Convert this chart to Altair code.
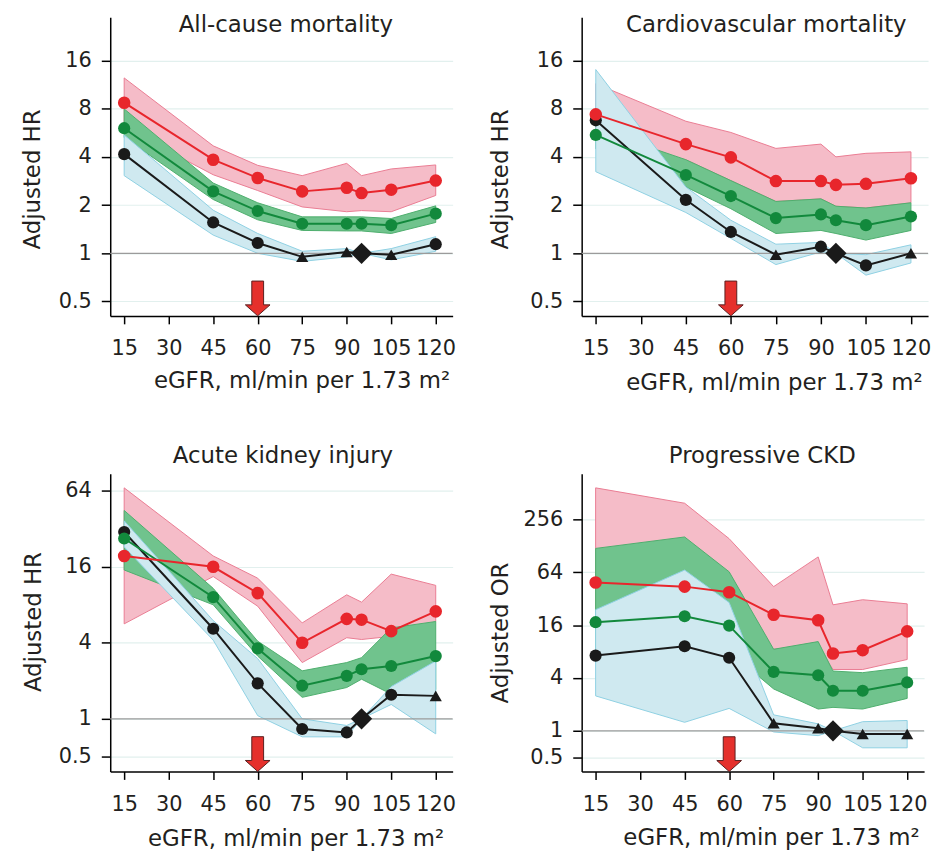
import altair as alt
import pandas as pd

# ---------------- data ----------------
X = [15, 45, 60, 75, 90, 95, 105, 120]
X_TICKS = [15, 30, 45, 60, 75, 90, 105, 120]

# All-cause mortality
AC_BLACK = [4.17, 1.56, 1.16, 0.95, 1.02, 1.0, 0.98, 1.14]
AC_BLACK_LO = [3.06, 1.3, 1.0, 0.89, 0.95, 1.0, 0.91, 1.03]
AC_BLACK_HI = [5.5, 1.86, 1.33, 1.03, 1.07, 1.0, 1.07, 1.27]
AC_SHAPE = ["circle", "circle", "circle", "triangle-up", "triangle-up", "diamond", "triangle-up", "circle"]
AC_GREEN = [6.06, 2.44, 1.84, 1.53, 1.53, 1.53, 1.5, 1.77]
AC_GREEN_LO = [5.3, 2.17, 1.62, 1.39, 1.38, 1.38, 1.33, 1.56]
AC_GREEN_HI = [8.0, 2.75, 2.07, 1.69, 1.69, 1.69, 1.65, 1.98]
AC_RED = [8.75, 3.85, 2.96, 2.44, 2.57, 2.38, 2.5, 2.85]
AC_RED_LO = [6.1, 3.1, 2.47, 1.95, 1.82, 1.85, 1.82, 2.3]
AC_RED_HI = [12.5, 4.7, 3.55, 3.06, 3.65, 3.06, 3.37, 3.57]

# Cardiovascular mortality
CV_BLACK = [6.79, 2.16, 1.36, 0.98, 1.1, 1.0, 0.84, 1.0]
CV_BLACK_LO = [3.24, 1.8, 1.24, 0.85, 1.02, 1.0, 0.73, 0.87]
CV_BLACK_HI = [14.1, 2.6, 1.61, 1.14, 1.17, 1.0, 0.98, 1.13]
CV_SHAPE = ["circle", "circle", "circle", "triangle-up", "circle", "diamond", "circle", "triangle-up"]
CV_GREEN = [5.5, 3.09, 2.28, 1.66, 1.75, 1.61, 1.5, 1.7]
CV_GREEN_LO = [4.5, 2.6, 1.9, 1.33, 1.39, 1.33, 1.21, 1.39]
CV_GREEN_HI = [6.0, 3.85, 2.85, 2.11, 2.19, 1.97, 1.92, 2.07]
CV_RED = [7.4, 4.82, 3.98, 2.83, 2.83, 2.68, 2.72, 2.95]
CV_RED_LO = [5.0, 3.85, 2.85, 2.11, 2.19, 1.97, 1.92, 2.07]
CV_RED_HI = [11.5, 6.7, 5.7, 4.53, 4.82, 4.01, 4.22, 4.31]

# Acute kidney injury
AKI_BLACK = [30.2, 5.17, 1.91, 0.83, 0.78, 1.0, 1.55, 1.52]
AKI_BLACK_LO = [23.0, 4.2, 1.06, 0.72, 0.72, 1.0, 1.3, 0.76]
AKI_BLACK_HI = [37.0, 6.0, 3.0, 1.0, 0.886, 1.0, 1.8, 2.87]
AKI_SHAPE = ["circle", "circle", "circle", "circle", "circle", "diamond", "circle", "triangle-up"]
AKI_GREEN = [26.8, 9.2, 3.61, 1.83, 2.19, 2.47, 2.62, 3.14]
AKI_GREEN_LO = [15.1, 8.0, 3.14, 1.48, 1.77, 2.06, 1.57, 1.7]
AKI_GREEN_HI = [44.7, 10.8, 4.12, 2.4, 2.79, 3.05, 5.25, 5.9]
AKI_RED = [19.5, 16.0, 9.9, 4.0, 6.19, 6.1, 4.95, 7.1]
AKI_RED_LO = [5.65, 13.4, 7.8, 2.79, 4.39, 4.25, 4.5, 5.9]
AKI_RED_HI = [67.5, 19.5, 13.0, 5.75, 9.6, 8.4, 14.0, 11.4]

# Progressive CKD
CKD_BLACK = [7.2, 9.2, 6.8, 1.22, 1.07, 1.0, 0.92, 0.92]
CKD_BLACK_LO = [2.5, 1.25, 1.8, 0.97, 0.88, 1.0, 0.64, 0.64]
CKD_BLACK_HI = [24.0, 68.0, 29.0, 1.52, 1.2, 1.0, 1.27, 1.31]
CKD_SHAPE = ["circle", "circle", "circle", "triangle-up", "triangle-up", "diamond", "triangle-up", "triangle-up"]
CKD_GREEN = [17.3, 20.2, 15.8, 4.7, 4.3, 2.86, 2.86, 3.56]
CKD_GREEN_LO = [8.0, 10.0, 8.0, 3.0, 1.77, 1.85, 1.77, 2.34]
CKD_GREEN_HI = [120.0, 162.0, 65.0, 8.5, 10.4, 4.8, 4.6, 5.3]
CKD_RED = [49.0, 44.0, 38.0, 21.0, 18.2, 7.6, 8.3, 13.6]
CKD_RED_LO = [25.0, 25.0, 20.0, 8.5, 9.0, 5.0, 5.0, 6.5]
CKD_RED_HI = [588.0, 393.0, 155.0, 44.0, 96.0, 27.3, 31.2, 28.0]

TITLES = ["All-cause mortality", "Cardiovascular mortality", "Acute kidney injury", "Progressive CKD"]
Y_TITLES = ["Adjusted HR", "Adjusted HR", "Adjusted HR", "Adjusted OR"]
Y_TICKS_A = [0.5, 1, 2, 4, 8, 16]
Y_TICKS_B = [0.5, 1, 4, 16, 64]
Y_TICKS_C = [0.5, 1, 4, 16, 64, 256]
REF_VALUE = [1]
ARROW_X = [60]
ARROW_Y = [0.522, 0.522, 0.526, 0.542]
X_TITLE = "eGFR, ml/min per 1.73 m\u00b2"

# ---------------- style ----------------
FONT = "DejaVu Sans"
TXT = "#231f20"
RED_L, RED_F, RED_S = "#e8262c", "#f5bcc8", "#ea7d93"
GRN_L, GRN_F, GRN_S = "#12893c", "#70c38d", "#4fae6e"
BLU_F, BLU_S = "#cfe9f0", "#8fd1e3"
BLK = "#1a1a1a"
GRID = "#e2f0ee"
ARROW_PATH = "M -0.34 -1 L 0.34 -1 L 0.34 0.37 L 0.71 0.37 L 0 1 L -0.71 0.37 L -0.34 0.37 Z"


def panel(i, black, blo, bhi, shape, green, glo, ghi, red, rlo, rhi,
          ydom, yticks, width, height, tx, ty, ytx, yty, xtx, xty):
    df = pd.DataFrame({
        "x": X, "b": black, "blo": blo, "bhi": bhi, "shape": shape,
        "g": green, "glo": glo, "ghi": ghi, "r": red, "rlo": rlo, "rhi": rhi,
    })
    xs = alt.X("x:Q", title=X_TITLE,
               scale=alt.Scale(domain=[10.3, 125.7], nice=False, zero=False),
               axis=alt.Axis(values=X_TICKS, grid=False, tickSize=8, tickWidth=1.5,
                             tickColor="black", domainColor="black", domainWidth=1.5,
                             labelFont=FONT, labelFontSize=21, labelColor=TXT,
                             labelPadding=14, labelFlush=False, labelOverlap=False,
                             titleFont=FONT, titleFontSize=23, titleFontWeight="normal",
                             titleColor=TXT, titleX=xtx, titleY=xty, titleAlign="right",
                             titleBaseline="alphabetic"))
    ysc = alt.Scale(type="log", domain=ydom, nice=False)
    yax = alt.Axis(values=yticks, format="~g", grid=True, gridColor=GRID, gridWidth=1.2,
                   tickSize=9, tickWidth=1.5, tickColor="black", domainColor="black",
                   domainWidth=1.5, labelFont=FONT, labelFontSize=21, labelColor=TXT,
                   labelPadding=10, labelOverlap=False,
                   titleFont=FONT, titleFontSize=23, titleFontWeight="normal",
                   titleColor=TXT, titleX=ytx, titleY=yty, titleAngle=270,
                   titleAlign="center", titleBaseline="middle")

    def Y(f):
        return alt.Y(f + ":Q", scale=ysc, axis=yax, title=Y_TITLES[i])

    base = alt.Chart(df)
    band_r = base.mark_area(fill=RED_F, stroke=RED_S, strokeWidth=1, opacity=1).encode(
        x=xs, y=Y("rlo"), y2="rhi:Q")
    band_g = base.mark_area(fill=GRN_F, stroke=GRN_S, strokeWidth=1, opacity=1).encode(
        x=xs, y=Y("glo"), y2="ghi:Q")
    band_b = base.mark_area(fill=BLU_F, stroke=BLU_S, strokeWidth=1, opacity=1).encode(
        x=xs, y=Y("blo"), y2="bhi:Q")
    ref = alt.Chart(pd.DataFrame({"v": REF_VALUE})).mark_rule(
        color="#9b9b9b", strokeWidth=1.3).encode(y=Y("v"))
    line_b = base.mark_line(color=BLK, strokeWidth=2).encode(x=xs, y=Y("b"))
    pts_b = base.transform_filter(alt.datum.shape != "diamond").mark_point(
        filled=True, size=150, color=BLK, opacity=1).encode(
        x=xs, y=Y("b"), shape=alt.Shape("shape:N", scale=None))
    dia = base.transform_filter(alt.datum.shape == "diamond").mark_point(
        filled=True, size=460, shape="diamond", color=BLK, opacity=1).encode(x=xs, y=Y("b"))
    line_g = base.mark_line(color=GRN_L, strokeWidth=2).encode(x=xs, y=Y("g"))
    pts_g = base.mark_point(filled=True, size=150, shape="circle", color=GRN_L,
                            opacity=1).encode(x=xs, y=Y("g"))
    line_r = base.mark_line(color=RED_L, strokeWidth=2).encode(x=xs, y=Y("r"))
    pts_r = base.mark_point(filled=True, size=160, shape="circle", color=RED_L,
                            opacity=1).encode(x=xs, y=Y("r"))
    arrow = alt.Chart(pd.DataFrame({"x": ARROW_X, "a": [ARROW_Y[i]]})).mark_point(
        shape=ARROW_PATH, size=1225, filled=True, fill="#e5302c", stroke="#5a1f1f",
        strokeWidth=1, opacity=1).encode(x=xs, y=Y("a"))
    title = alt.Chart(pd.DataFrame({"t": [TITLES[i]]})).mark_text(
        font=FONT, fontSize=23, color=TXT, align="center", baseline="alphabetic").encode(
        text="t:N", x=alt.value(tx), y=alt.value(ty))

    return alt.layer(band_r, band_g, band_b, ref, line_b, pts_b, dia,
                     line_g, pts_g, line_r, pts_r, arrow, title).properties(
        width=width, height=height)


p1 = panel(0, AC_BLACK, AC_BLACK_LO, AC_BLACK_HI, AC_SHAPE, AC_GREEN, AC_GREEN_LO,
           AC_GREEN_HI, AC_RED, AC_RED_LO, AC_RED_HI, [0.406, 30.0], Y_TICKS_A, 345, 301,
           177, 15, -78, 163, 342, 72)
p2 = panel(1, CV_BLACK, CV_BLACK_LO, CV_BLACK_HI, CV_SHAPE, CV_GREEN, CV_GREEN_LO,
           CV_GREEN_HI, CV_RED, CV_RED_LO, CV_RED_HI, [0.406, 30.0], Y_TICKS_A, 349, 301,
           186, 15, -82, 163, 343, 74)
p3 = panel(2, AKI_BLACK, AKI_BLACK_LO, AKI_BLACK_HI, AKI_SHAPE, AKI_GREEN, AKI_GREEN_LO,
           AKI_GREEN_HI, AKI_RED, AKI_RED_LO, AKI_RED_HI, [0.383, 87.4], Y_TICKS_B, 345, 300,
           174, -11, -77, 149, 336, 75)
p4 = panel(3, CKD_BLACK, CKD_BLACK_LO, CKD_BLACK_HI, CKD_SHAPE, CKD_GREEN, CKD_GREEN_LO,
           CKD_GREEN_HI, CKD_RED, CKD_RED_LO, CKD_RED_HI, [0.344, 853.0], Y_TICKS_C, 345, 300,
           182, -11, -82, 160, 340, 74)

chart = alt.vconcat(
    alt.hconcat(p1, p2, spacing=33),
    alt.hconcat(p3, p4, spacing=33),
    spacing=51,
).configure_view(strokeWidth=0).properties(
    background="white", padding={"left": 14, "top": 3, "right": 5, "bottom": 5})

chart.save("out.html", embed_options={"renderer": "svg", "actions": False})
